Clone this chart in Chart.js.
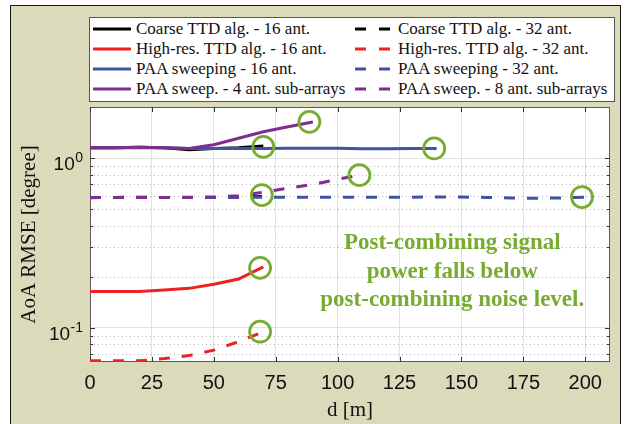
<!DOCTYPE html>
<html>
<head>
<meta charset="utf-8">
<script src="https://cdn.jsdelivr.net/npm/chart.js@4.4.0/dist/chart.umd.min.js"></script>
<style>
    html, body { margin: 0; padding: 0; background: #fff; }
    #wrap { position: relative; width: 627px; height: 424px; overflow: hidden; }
    #frame {
        position: absolute; left: 10px; top: 5px; width: 611px; height: 440px;
        box-sizing: border-box; background: #dbdbbb; border: 1.5px solid #1a1a1a;
    }
    #chart { position: absolute; left: 0; top: 0; }
    #legend {
        position: absolute; left: 89px; top: 17px; width: 526px; height: 85px;
        box-sizing: border-box; background: #fff; border: 1px solid #555;
        font: 17px "Liberation Serif", "Times New Roman", serif; color: #111;
    }
    .item { position: absolute; height: 20px; line-height: 20px; display: flex; align-items: center; white-space: nowrap; }
    .item svg { margin-right: 5px; flex: none; }
</style>
</head>
<body>
<div id="wrap">
    <div id="frame"></div>
    <canvas id="chart" width="627" height="424"></canvas>
    <div id="legend"></div>
</div>
<script>
// ==================== DATOS ====================
const dShort = [0, 10, 20, 30, 40, 50, 60, 70];
const coarse16 = [1.15, 1.15, 1.16, 1.15, 1.12, 1.14, 1.15, 1.18];
const coarse32 = [0.587, 0.587, 0.588, 0.587, 0.586, 0.587, 0.589, 0.595];
const highRes16 = [0.164, 0.164, 0.164, 0.167, 0.171, 0.181, 0.194, 0.229];
const highRes32 = [0.064, 0.064, 0.064, 0.066, 0.0687, 0.074, 0.083, 0.095];

const dPaa16 = [0, 10, 20, 30, 40, 50, 60, 70, 80, 90, 100, 110, 120, 130, 140];
const paa16 = [1.15, 1.15, 1.15, 1.15, 1.14, 1.14, 1.14, 1.14, 1.145, 1.145, 1.145, 1.135, 1.135, 1.14, 1.14];

const dPaa32 = [0, 10, 20, 30, 40, 50, 60, 70, 80, 90, 100, 110, 120, 130, 140, 150, 160, 170, 180, 190, 200];
const paa32 = [0.587, 0.587, 0.587, 0.587, 0.587, 0.587, 0.587, 0.588, 0.588, 0.588, 0.588,
               0.589, 0.589, 0.589, 0.59, 0.59, 0.587, 0.582, 0.58, 0.583, 0.588];

const dSub4 = [0, 10, 20, 30, 40, 50, 60, 70, 80, 90];
const sub4 = [1.15, 1.15, 1.16, 1.15, 1.14, 1.2, 1.31, 1.43, 1.53, 1.63];

const dSub8 = [0, 10, 20, 30, 40, 50, 60, 70, 80, 90, 100, 110];
const sub8 = [0.585, 0.586, 0.587, 0.587, 0.588, 0.59, 0.6, 0.63, 0.665, 0.7, 0.75, 0.8];

// end-of-range markers (green circles)
const circleX = [70, 69.4, 68.7, 68.7, 139, 198.7, 88.6, 108.8];
const circleY = [1.165, 0.606, 0.226, 0.095, 1.14, 0.59, 1.635, 0.794];

const xTicks = [0, 25, 50, 75, 100, 125, 150, 175, 200];
const yMajorTicks = [0.1, 1];
const yTickLabels = [['10', '-1'], ['10', '0']];
const yMinorTicks = [0.07, 0.08, 0.09, 0.2, 0.3, 0.4, 0.5, 0.6, 0.7, 0.8, 0.9];

const noteLines = ['Post-combining signal', 'power falls below', 'post-combining noise level.'];

// ==================== ESTILO ====================
const BLACK = '#000000';
const RED = '#ee2222';
const BLUE = '#3e54a3';
const PURPLE = '#7e2f8e';
const GREEN = '#77ac30';
const DASH = [11, 12];
const SANS = '"Liberation Sans", Arial, sans-serif';
const SERIF = '"Liberation Serif", "Times New Roman", serif';

const pts = (xs, ys) => xs.map((x, i) => ({ x, y: ys[i] }));

// legend order (row by row, two columns)
const series = [
    { label: 'Coarse TTD alg. - 16 ant.', xs: dShort, ys: coarse16, color: BLACK, dashed: false, order: 4 },
    { label: 'Coarse TTD alg. - 32 ant.', xs: dShort, ys: coarse32, color: BLACK, dashed: true, order: 4 },
    { label: 'High-res. TTD alg. - 16 ant.', xs: dShort, ys: highRes16, color: RED, dashed: false, order: 3 },
    { label: 'High-res. TTD alg. - 32 ant.', xs: dShort, ys: highRes32, color: RED, dashed: true, order: 3 },
    { label: 'PAA sweeping - 16 ant.', xs: dPaa16, ys: paa16, color: BLUE, dashed: false, order: 2 },
    { label: 'PAA sweeping - 32 ant.', xs: dPaa32, ys: paa32, color: BLUE, dashed: true, order: 2 },
    { label: 'PAA sweep. - 4 ant. sub-arrays', xs: dSub4, ys: sub4, color: PURPLE, dashed: false, order: 1 },
    { label: 'PAA sweep. - 8 ant. sub-arrays', xs: dSub8, ys: sub8, color: PURPLE, dashed: true, order: 1 }
];

const datasets = series.map(s => ({
    label: s.label,
    data: pts(s.xs, s.ys),
    borderColor: s.color,
    borderWidth: 3,
    borderDash: s.dashed ? DASH : [],
    borderCapStyle: 'butt',
    pointRadius: 0,
    tension: 0,
    fill: false,
    order: s.order
}));

datasets.push({
    label: 'limit',
    data: pts(circleX, circleY),
    showLine: false,
    pointRadius: 10.5,
    pointBorderWidth: 2.8,
    pointBorderColor: GREEN,
    pointBackgroundColor: 'rgba(0,0,0,0)',
    clip: false,
    order: 0
});

// ==================== LEYENDA (HTML) ====================
function buildLegend() {
    const box = document.getElementById('legend');
    series.forEach((s, i) => {
        const col = i % 2, row = Math.floor(i / 2);
        const item = document.createElement('div');
        item.className = 'item';
        item.style.left = (3 + col * 262) + 'px';
        item.style.top = (1 + row * 20) + 'px';
        const dash = s.dashed ? ' stroke-dasharray="11 13"' : '';
        item.innerHTML = `<svg width="38" height="20"><line x1="0" y1="10" x2="38" y2="10" stroke="${s.color}" stroke-width="3"${dash}/></svg><span>${s.label}</span>`;
        box.appendChild(item);
    });
}

// ==================== PLUGIN: ejes estilo MATLAB ====================
const axesDeco = {
    id: 'axesDeco',
    beforeDraw(chart) {
        const { ctx, chartArea: a } = chart;
        ctx.save();
        ctx.fillStyle = '#ffffff';
        ctx.fillRect(a.left, a.top, a.right - a.left, a.bottom - a.top);
        ctx.restore();
    },
    beforeDatasetsDraw(chart) {
        const { ctx, chartArea: a, scales: { x, y } } = chart;
        ctx.save();
        // minor dotted grid
        ctx.strokeStyle = '#b4b4b4';
        ctx.lineWidth = 1;
        ctx.setLineDash([1, 3]);
        yMinorTicks.forEach(v => {
            const py = Math.round(y.getPixelForValue(v)) + 0.5;
            ctx.beginPath();
            ctx.moveTo(a.left, py);
            ctx.lineTo(a.right, py);
            ctx.stroke();
        });
        ctx.setLineDash([]);
        // box
        ctx.strokeStyle = '#5a5a5a';
        ctx.strokeRect(a.left + 0.5, a.top + 0.5, a.right - a.left - 1, a.bottom - a.top - 1);
        // inner tick marks
        ctx.strokeStyle = '#333';
        ctx.beginPath();
        xTicks.forEach(v => {
            const px = Math.round(x.getPixelForValue(v)) + 0.5;
            ctx.moveTo(px, a.bottom); ctx.lineTo(px, a.bottom - 5);
            ctx.moveTo(px, a.top); ctx.lineTo(px, a.top + 5);
        });
        const yTick = (v, len) => {
            const py = Math.round(y.getPixelForValue(v)) + 0.5;
            ctx.moveTo(a.left, py); ctx.lineTo(a.left + len, py);
            ctx.moveTo(a.right, py); ctx.lineTo(a.right - len, py);
        };
        yMajorTicks.forEach(v => yTick(v, 5));
        yMinorTicks.forEach(v => yTick(v, 3));
        ctx.stroke();
        ctx.restore();
    },
    afterDatasetsDraw(chart) {
        const { ctx, chartArea: a, scales: { x, y } } = chart;
        ctx.save();
        // y tick labels 10^n
        ctx.fillStyle = '#111';
        ctx.textBaseline = 'alphabetic';
        ctx.textAlign = 'left';
        yMajorTicks.forEach((v, i) => {
            const [base, exp] = yTickLabels[i];
            const py = y.getPixelForValue(v);
            ctx.font = '14px ' + SANS;
            const we = ctx.measureText(exp).width;
            ctx.font = '19px ' + SANS;
            const wb = ctx.measureText(base).width;
            const right = a.left - 7;
            ctx.fillText(base, right - we - wb - 0.5, py + 12);
            ctx.font = '14px ' + SANS;
            ctx.fillText(exp, right - we, py + 4);
        });
        // annotation
        ctx.fillStyle = GREEN;
        ctx.font = 'bold 23px ' + SERIF;
        ctx.textAlign = 'center';
        ctx.textBaseline = 'middle';
        const nx = x.getPixelForValue(146.3);
        const ny = y.getPixelForValue(0.316);
        noteLines.forEach((t, i) => ctx.fillText(t, nx, ny + i * 28.5));
        ctx.restore();
    }
};

// ==================== GRÁFICO ====================
Chart.defaults.font.family = SANS;

new Chart(document.getElementById('chart'), {
    type: 'line',
    data: { datasets },
    options: {
        responsive: false,
        animation: false,
        devicePixelRatio: 1,
        layout: { padding: { left: 17, right: 17, top: 107, bottom: 0 } },
        plugins: { legend: { display: false }, tooltip: { enabled: false } },
        scales: {
            x: {
                type: 'linear',
                min: 0,
                max: 210,
                afterBuildTicks: s => { s.ticks = xTicks.map(v => ({ value: v })); },
                afterFit: s => { s.height = 62; },
                ticks: { font: { size: 20 }, color: '#111', padding: 9, maxRotation: 0, autoSkip: false },
                grid: { color: '#e0e0e0', lineWidth: 1, drawTicks: false },
                border: { display: false },
                title: {
                    display: true, text: 'd [m]', color: '#111',
                    font: { family: SERIF, size: 21 }, padding: { top: 0, bottom: 1 }
                }
            },
            y: {
                type: 'logarithmic',
                min: 0.063,
                max: 2,
                afterBuildTicks: s => { s.ticks = yMajorTicks.map(v => ({ value: v })); },
                afterFit: s => { s.width = 73; },
                ticks: { display: false },
                grid: { color: '#e0e0e0', lineWidth: 1, drawTicks: false },
                border: { display: false },
                title: {
                    display: true, text: 'AoA RMSE [degree]', color: '#111',
                    font: { family: SERIF, size: 21 }, padding: { top: 0, bottom: 0 }
                }
            }
        }
    },
    plugins: [axesDeco]
});

buildLegend();
</script>
</body>
</html>
